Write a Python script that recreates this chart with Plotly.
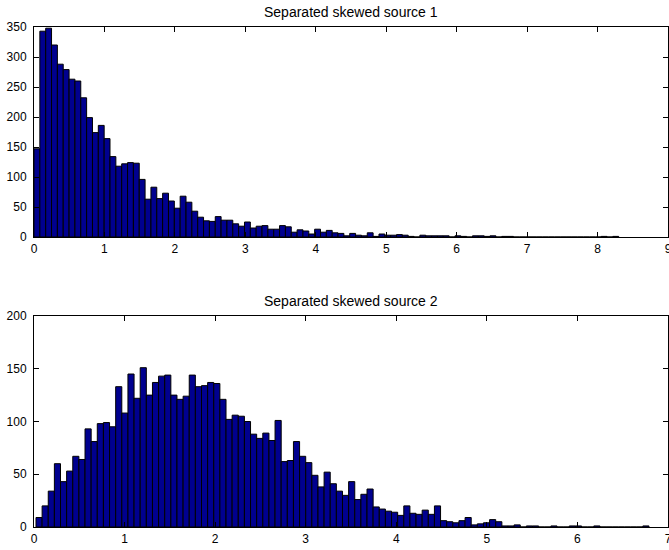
import numpy as np
import plotly.graph_objects as go

# Histogram counts (100 bins each)
source1_counts = [
    147, 343, 348, 320, 288, 279, 263, 260, 232, 199,
    174, 186, 164, 134, 118, 122, 124, 123, 96, 63,
    83, 64, 73, 60, 48, 68, 58, 43, 33, 27,
    26, 34, 28, 28, 22, 18, 25, 15, 18, 19,
    13, 13, 19, 17, 8, 12, 10, 5, 13, 8,
    11, 7, 6, 2, 6, 3, 2, 7, 1, 5,
    3, 3, 4, 3, 1, 0, 3, 2, 2, 2,
    2, 0, 2, 1, 0, 2, 2, 1, 2, 0,
    1, 1, 0, 0, 0, 0, 0, 0, 0, 0,
    0, 0, 0, 0, 0, 0, 0, 1, 0, 1,
]
source2_counts = [
    9, 20, 34, 60, 43, 53, 67, 64, 93, 81,
    98, 99, 95, 133, 108, 145, 122, 151, 125, 137,
    143, 144, 125, 121, 124, 144, 133, 134, 137, 136,
    121, 102, 106, 105, 100, 88, 84, 89, 82, 101,
    62, 63, 81, 67, 61, 49, 38, 52, 41, 34,
    30, 43, 26, 31, 36, 19, 17, 15, 14, 11,
    20, 13, 12, 16, 12, 20, 6, 5, 4, 6,
    9, 2, 3, 4, 7, 5, 1, 1, 2, 0,
    1, 1, 0, 0, 1, 0, 0, 1, 1, 0,
    0, 1, 0, 0, 0, 0, 0, 0, 0, 1,
]

# Data range covered by the bins of each histogram
source1_range = [0.0, 8.30]
source2_range = [0.022, 6.79]

titles = ["Separated skewed source 1", "Separated skewed source 2"]
x_ticks_1 = list(range(0, 10))
y_ticks_1 = list(range(0, 351, 50))
x_ticks_2 = list(range(0, 8))
y_ticks_2 = list(range(0, 201, 50))

BAR_COLOR = "#00008f"
FONT = "Liberation Sans, Arial, Helvetica, sans-serif"
W, H = 669, 550


def bins(counts, rng):
    edges = np.linspace(rng[0], rng[1], len(counts) + 1)
    centers = (edges[:-1] + edges[1:]) / 2
    width = edges[1] - edges[0]
    return centers, width


c1, w1 = bins(source1_counts, source1_range)
c2, w2 = bins(source2_counts, source2_range)

fig = go.Figure()
fig.add_trace(go.Bar(
    x=c1, y=source1_counts, width=w1, xaxis="x", yaxis="y",
    marker=dict(color=BAR_COLOR, line=dict(color="black", width=1)),
    showlegend=False, hoverinfo="x+y",
))
fig.add_trace(go.Bar(
    x=c2, y=source2_counts, width=w2, xaxis="x2", yaxis="y2",
    marker=dict(color=BAR_COLOR, line=dict(color="black", width=1)),
    showlegend=False, hoverinfo="x+y",
))


def axis_style(**kw):
    base = dict(
        showline=True, linecolor="black", linewidth=1, mirror="ticks",
        ticks="inside", ticklen=5, tickwidth=1, tickcolor="black",
        showgrid=False, zeroline=False, automargin=False,
        ticklabeloverflow="allow",
        tickfont=dict(family=FONT, size=12, color="black"),
        fixedrange=True,
    )
    base.update(kw)
    return base


top_dom = [1 - 237 / H, 1 - 27 / H]
bot_dom = [1 - 527 / H, 1 - 316 / H]

fig.update_layout(
    width=W, height=H,
    margin=dict(l=34, r=1, t=0, b=0),
    paper_bgcolor="white", plot_bgcolor="white",
    template="none",
    barmode="overlay",
    xaxis=axis_style(domain=[0, 1], range=[0, 9], tickvals=x_ticks_1,
                     anchor="y", ticklabelstandoff=1),
    yaxis=axis_style(domain=top_dom, range=[0, 350], tickvals=y_ticks_1,
                     anchor="x", ticklabelstandoff=4),
    xaxis2=axis_style(domain=[0, 1], range=[0, 7], tickvals=x_ticks_2,
                      anchor="y2", ticklabelstandoff=1),
    yaxis2=axis_style(domain=bot_dom, range=[0, 200], tickvals=y_ticks_2,
                      anchor="x2", ticklabelstandoff=4),
    annotations=[
        dict(text=titles[0], x=0.5, y=1 - 12 / H, xref="paper", yref="paper",
             showarrow=False, xanchor="center", yanchor="middle",
             font=dict(family=FONT, size=14, color="black")),
        dict(text=titles[1], x=0.5, y=1 - 301 / H, xref="paper", yref="paper",
             showarrow=False, xanchor="center", yanchor="middle",
             font=dict(family=FONT, size=14, color="black")),
    ],
)

fig.write_html("out.html", include_plotlyjs=True, config={"displayModeBar": False})
